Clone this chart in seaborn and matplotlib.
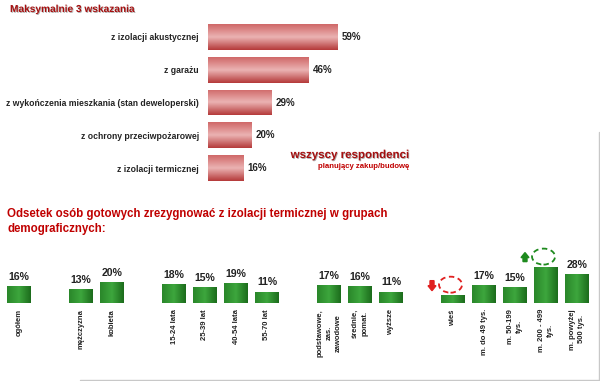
"""Rezygnacja z elementów domu - wykres słupkowy."""
import matplotlib
matplotlib.use("Agg")

import matplotlib.patheffects as pe
import matplotlib.pyplot as plt
import numpy as np
import pandas as pd
import seaborn as sns
from matplotlib.colors import LinearSegmentedColormap
from matplotlib.lines import Line2D
from matplotlib.patches import Ellipse, FancyArrow
from matplotlib.transforms import IdentityTransform, blended_transform_factory

# --- data -------------------------------------------------------------
top_labels = [
    "z izolacji akustycznej",
    "z garażu",
    "z wykończenia mieszkania (stan deweloperski)",
    "z ochrony przeciwpożarowej",
    "z izolacji termicznej",
]
top_values = [59, 46, 29, 20, 16]

demo_labels = [
    "ogółem",
    "mężczyzna", "kobieta",
    "15-24 lata", "25-39 lat", "40-54 lata", "55-70 lat",
    "podstawowe,\nzas.\nzawodowe", "średnie,\npomat.", "wyższe",
    "wieś", "m. do 49 tys.", "m. 50-199\ntys.", "m. 200 - 499\ntys.", "m. powyżej\n500 tys.",
]
demo_groups = [
    "total",
    "sex", "sex",
    "age", "age", "age", "age",
    "edu", "edu", "edu",
    "place", "place", "place", "place", "place",
]
demo_values = [16, 13, 20, 18, 15, 19, 11, 17, 16, 11, 8, 17, 15, 35, 28]
# labels replaced by a dashed circle and arrow in the original
demo_flags = {"wieś": "down", "m. 200 - 499\ntys.": "up"}

DARK_RED = "#a50f0f"
TITLE_RED = "#c00000"
FONT = "Liberation Sans"

W, H = 600, 381


def px_axes(fig, left, top, width, height):
    return fig.add_axes([left / W, 1 - (top + height) / H, width / W, height / H])


def shade(ax, colors, along_y):
    cmap = LinearSegmentedColormap.from_list("shade", colors)
    grad = np.linspace(0, 1, 64)
    img = grad.reshape(-1, 1) if along_y else grad.reshape(1, -1)
    for p in list(ax.patches):
        x0, y0, w, h = p.get_x(), p.get_y(), p.get_width(), p.get_height()
        im = ax.imshow(img, cmap=cmap, extent=[x0, x0 + w, y0, y0 + h], origin="lower",
                       aspect="auto", interpolation="bilinear", zorder=p.get_zorder() + 0.1)
        im.set_clip_path(p)


def main() -> None:
    sns.set_theme(style="white")
    plt.rcParams["font.family"] = [FONT, "DejaVu Sans"]
    plt.rcParams["font.weight"] = "bold"

    fig = plt.figure(figsize=(W / 100, H / 100), dpi=100)
    fig.patch.set_facecolor("white")

    # --- top: horizontal bars ----------------------------------------
    ax1 = px_axes(fig, 208, 20.6, 219, 163.8)
    top = pd.DataFrame({"label": top_labels, "value": top_values})
    sns.barplot(data=top, x="value", y="label", orient="h", color="#c85050",
                width=0.78, ax=ax1)
    shade(ax1, ["#d06868", "#ebb3b3", "#b53a3a"], along_y=True)
    ax1.set_xlim(0, 100)
    ax1.set_ylim(4.5, -0.5)
    for c in ax1.containers:
        ax1.bar_label(c, labels=[f"{v}%" for v in top_values], padding=3,
                      fontsize=7, fontweight="bold", color="#222222")
    ax1.set_xlabel("")
    ax1.set_ylabel("")
    ax1.set_xticks([])
    ax1.tick_params(axis="y", length=0, pad=6.5, labelsize=6.2)
    for t in ax1.get_yticklabels():
        t.set_fontweight("bold")
        t.set_color("#222222")
    sns.despine(ax=ax1, left=True, bottom=True)
    ax1.patch.set_alpha(0)

    fig.text(10 / W, 1 - 9 / H, "Maksymalnie 3 wskazania", color=DARK_RED,
             fontsize=7.3, fontweight="heavy", va="center", ha="left",
             path_effects=[pe.withSimplePatchShadow(offset=(0.6, -0.6), shadow_rgbFace="#777777", alpha=0.6)])
    fig.text(409 / W, 1 - 155 / H, "wszyscy respondenci", color=DARK_RED,
             fontsize=8.3, fontweight="heavy", va="center", ha="right",
             path_effects=[pe.withSimplePatchShadow(offset=(0.6, -0.6), shadow_rgbFace="#777777", alpha=0.6)])
    fig.text(409 / W, 1 - 167 / H, "planujący zakup/budowę", color=TITLE_RED,
             fontsize=5.6, va="center", ha="right")

    fig.text(7 / W, 1 - 221.5 / H,
             "Odsetek osób gotowych zrezygnować z izolacji termicznej w grupach\ndemograficznych:",
             color=TITLE_RED, fontsize=8.3, fontweight="bold", va="center", ha="left",
             linespacing=1.25)

    # --- bottom: demographic bars -----------------------------------
    slots, pos, prev = [], -1, None
    for g in demo_groups:
        pos += 1 if g == prev or prev is None else 2
        slots.append(pos)
        prev = g
    demo = pd.DataFrame({"slot": slots, "value": demo_values, "label": demo_labels})

    ax2 = px_axes(fig, 0, 244, 600, 59)
    sns.barplot(data=demo, x="slot", y="value", native_scale=True, color="#2e8b2e",
                width=0.77, ax=ax2)
    shade(ax2, ["#2a872a", "#3da63d", "#1c6c1c"], along_y=False)
    ax2.set_xlim(-19 / 31, (W - 19) / 31)
    ax2.set_ylim(0, 59 / 1.04)
    for c in ax2.containers:
        ax2.bar_label(c, labels=["" if l in demo_flags else f"{v}%"
                                 for l, v in zip(demo_labels, demo_values)],
                      padding=3, fontsize=7.6, fontweight="bold", color="#222222")
    ax2.set_axis_off()

    trans = blended_transform_factory(ax2.transData, fig.transFigure)
    for s, lab in zip(slots, demo_labels):
        ax2.text(s, 1 - 309 / H, lab, transform=trans, rotation=90, ha="center", va="top",
                 multialignment="center", fontsize=5.5, fontweight="bold",
                 color="#222222", linespacing=1.45)

    # dashed circles with arrows instead of labels
    px_per_pct = 1.04
    for s, lab, v in zip(slots, demo_labels, demo_values):
        if lab not in demo_flags:
            continue
        up = demo_flags[lab] == "up"
        col = "#1e8a1e" if up else "#e02020"
        cy = v + 10 / px_per_pct
        ax2.add_patch(Ellipse((s - 0.08, cy), 23 / 31, 16 / px_per_pct, fill=False,
                              edgecolor=col, lw=1.3, ls=(0, (3, 2)), clip_on=False))
        xd, yd = ax2.transData.transform((s, cy))
        ax_x = xd - 21
        if up:
            arr = FancyArrow(ax_x, yd - 5, 0, 9, width=4, head_width=8, head_length=5,
                             length_includes_head=True, color=col, transform=IdentityTransform())
        else:
            arr = FancyArrow(ax_x, yd + 4, 0, -10, width=4, head_width=8, head_length=5,
                             length_includes_head=True, color=col, transform=IdentityTransform())
        fig.add_artist(arr)

    # light frame
    fig.add_artist(Line2D([80 / W, 598.5 / W], [1 - 379.5 / H] * 2, color="#c8c8c8", lw=1))
    fig.add_artist(Line2D([598.5 / W] * 2, [1 - 132 / H, 1 - 379.5 / H], color="#c8c8c8", lw=1))

    fig.savefig("out.png", dpi=100, facecolor="white")
    plt.close(fig)


if __name__ == "__main__":
    main()
